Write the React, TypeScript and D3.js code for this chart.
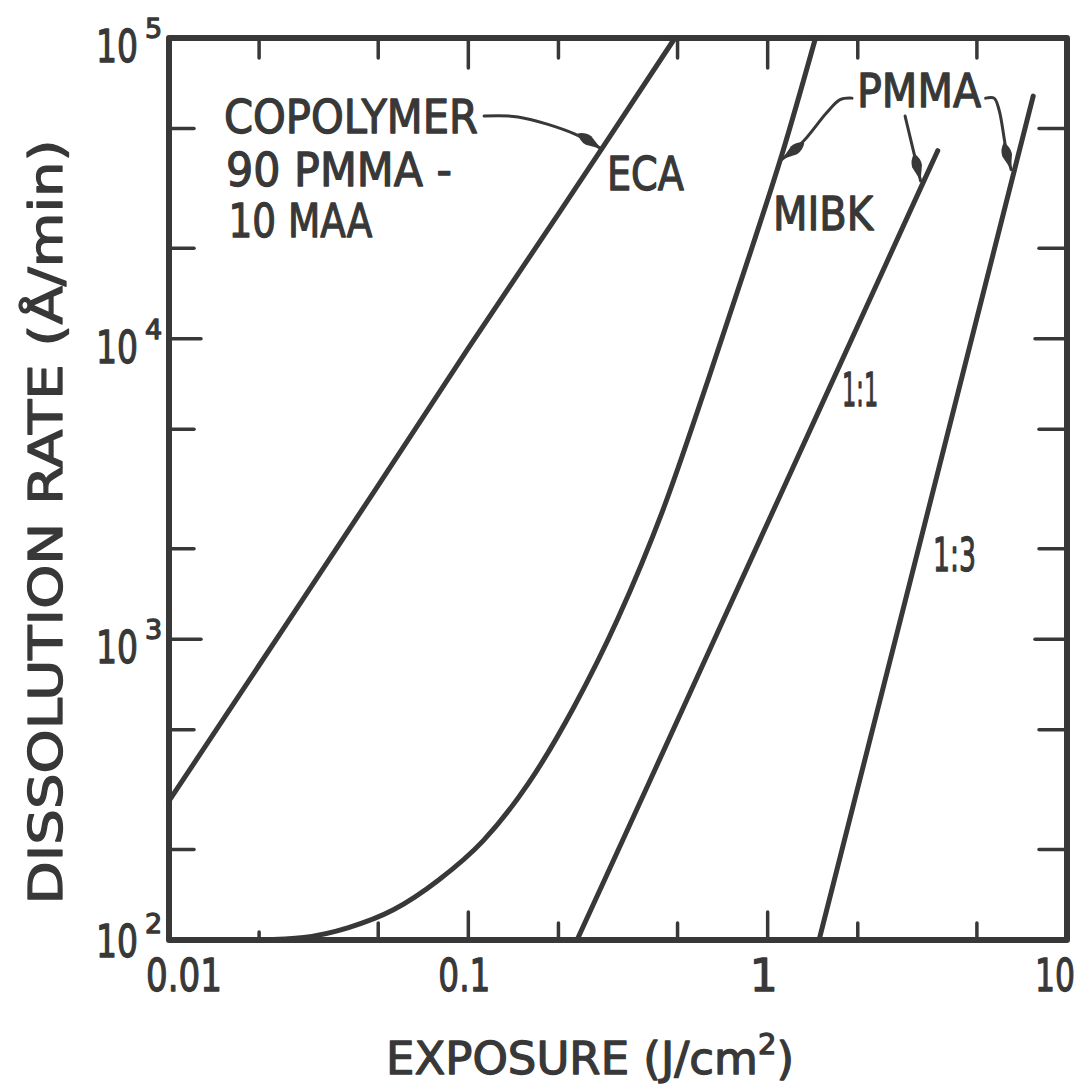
import React from "react";
import * as d3 from "d3";

// ---- data (exposure J/cm^2, dissolution rate Å/min) ----
const xMajorTicks = [0.01, 0.1, 1, 10];
const xTickLabels = ["0.01", "0.1", "1", "10"];
const xMinorTicks = [0.02, 0.05, 0.2, 0.5, 2, 5];
const yMajorTicks = [100, 1000, 10000, 100000];
const yTickExponents = ["2", "3", "4", "5"];
const yMinorTicks = [200, 500, 2000, 5000, 20000, 50000];

const copolymerECA: [number, number][] = [
  [0.01, 290], [0.02, 820], [0.05, 3250], [0.1, 9300], [0.2, 26000],
  [0.28, 43000], [0.49, 100000],
];
const pmmaMIBK: [number, number][] = [
  [0.02, 100], [0.0282, 102], [0.0398, 110], [0.0562, 126], [0.0794, 158],
  [0.1122, 214], [0.1585, 331], [0.2239, 589], [0.3162, 1175], [0.4467, 2692],
  [0.631, 7244], [0.891, 20400], [1.122, 41700], [1.445, 100000],
];
const pmma11: [number, number][] = [
  [0.2307, 100], [0.4, 331], [0.7, 1122], [1.2, 3630], [2.0, 11040],
  [3.3, 32900], [3.7, 42200],
];
const pmma13: [number, number][] = [
  [1.485, 100], [2.0, 321], [3.0, 1574], [5.0, 11700], [7.71, 64100],
];
const seriesList = [copolymerECA, pmmaMIBK, pmma11, pmma13];

const INK = "#383838";
const FONT = "'DejaVu Sans', 'Noto Sans', sans-serif";

export default function App() {
  const left = 169, right = 1067, top = 38, bottom = 940;
  const x = d3.scaleLog().domain([0.01, 10]).range([left, right]);
  const y = d3.scaleLog().domain([100, 100000]).range([bottom, top]);
  const line = d3
    .line<[number, number]>()
    .x((d) => x(d[0]))
    .y((d) => y(d[1]))
    .curve(d3.curveMonotoneX);

  // annotation placements (data coordinates)
  const texts = [
    { t: "COPOLYMER", at: [0.01527, 48300], w: 254 },
    { t: "90 PMMA -", at: [0.01551, 32200], w: 226 },
    { t: "10 MAA", at: [0.0158, 21800], w: 144 },
    { t: "ECA", at: [0.2905, 31200], w: 77 },
    { t: "MIBK", at: [1.042, 22960], w: 100 },
    { t: "PMMA", at: [1.989, 58900], w: 124 },
    { t: "1:1", at: [1.773, 5970], w: 36 },
    { t: "1:3", at: [3.569, 1688], w: 43 },
  ];
  const leaders: [number, number][][] = [
    [[0.1129, 55000], [0.1466, 54600], [0.2272, 47900], [0.2776, 42800]],
    [[1.914, 63100], [1.746, 62400], [1.574, 56400], [1.3085, 45070], [1.117, 39500]],
    [[2.878, 55000], [3.243, 33500]],
    [[5.348, 63100], [5.707, 63100], [5.931, 57600], [6.26, 42560], [6.506, 36500]],
  ];
  const leaderLine = d3
    .line<[number, number]>()
    .x((d) => x(d[0]))
    .y((d) => y(d[1]))
    .curve(d3.curveCatmullRom.alpha(0.5));

  return (
    <svg
      width={1088}
      height={1085}
      style={{ position: "absolute", left: 0, top: 0, background: "#fff" }}
      fontFamily={FONT}
    >
      <defs>
        <marker
          id="arrowhead"
          viewBox="0 0 28 12"
          refX={28}
          refY={6}
          markerWidth={28}
          markerHeight={12}
          markerUnits="userSpaceOnUse"
          orient="auto"
        >
          <path d="M0,6 Q6,0.5 13,1 L28,6 L13,11 Q6,11.5 0,6Z" fill={INK} />
        </marker>
      </defs>
      <rect width={1088} height={1085} fill="#fff" />

      {/* ticks */}
      <g stroke={INK} strokeWidth={3.5} strokeLinecap="round">
        {xMajorTicks.slice(1, -1).map((v) => (
          <g key={"xM" + v}>
            <line x1={x(v)} x2={x(v)} y1={bottom} y2={bottom - 28} />
            <line x1={x(v)} x2={x(v)} y1={top} y2={top + 30} />
          </g>
        ))}
        {xMinorTicks.map((v) => (
          <g key={"xm" + v}>
            <line x1={x(v)} x2={x(v)} y1={bottom} y2={bottom - (v === 0.02 ? 8 : 17)} />
            <line x1={x(v)} x2={x(v)} y1={top} y2={top + 20} />
          </g>
        ))}
        {yMajorTicks.slice(1, -1).map((v) => (
          <g key={"yM" + v}>
            <line x1={left} x2={left + 32} y1={y(v)} y2={y(v)} />
            <line x1={right} x2={right - 32} y1={y(v)} y2={y(v)} />
          </g>
        ))}
        {yMinorTicks.map((v) => (
          <g key={"ym" + v}>
            <line x1={left} x2={left + 25} y1={y(v)} y2={y(v)} />
            <line x1={right} x2={right - 28} y1={y(v)} y2={y(v)} />
          </g>
        ))}
      </g>

      {/* frame */}
      <rect
        x={left}
        y={top}
        width={right - left}
        height={bottom - top}
        fill="none"
        stroke={INK}
        strokeWidth={6}
        strokeLinejoin="round"
      />

      {/* curves */}
      <g fill="none" stroke={INK} strokeWidth={5} strokeLinecap="round">
        {seriesList.map((s, i) => (
          <path key={i} d={line(s) || ""} />
        ))}
      </g>

      {/* leaders */}
      <g fill="none" stroke={INK} strokeWidth={3} strokeLinecap="round">
        {leaders.map((l, i) => (
          <path key={i} d={leaderLine(l) || ""} markerEnd="url(#arrowhead)" />
        ))}
      </g>

      <g fill={INK} stroke={INK} strokeWidth={1.3} strokeLinejoin="round">
        {/* annotation text */}
        <g fontSize={46}>
          {texts.map((a) => (
            <text
              key={a.t}
              x={x(a.at[0])}
              y={y(a.at[1])}
              textLength={a.w}
              lengthAdjust="spacingAndGlyphs"
            >
              {a.t}
            </text>
          ))}
        </g>

        {/* x tick labels */}
        <g fontSize={44} textAnchor="middle">
          {xMajorTicks.map((v, i) => (
            <text
              key={v}
              x={x(v) + (i === 0 ? 15 : i === xMajorTicks.length - 1 ? -12 : -4)}
              y={991}
              textLength={i === 0 ? 76 : i === 1 ? 52 : i === 3 ? 40 : undefined}
              lengthAdjust="spacingAndGlyphs"
            >
              {xTickLabels[i]}
            </text>
          ))}
        </g>

        {/* y tick labels */}
        <g fontSize={44}>
          {yMajorTicks.map((v, i) => {
            const base = Math.min(y(v) + 24, 957);
            return (
              <g key={v}>
                <text x={138} y={base} textAnchor="end" textLength={42} lengthAdjust="spacingAndGlyphs">
                  10
                </text>
                <text x={145} y={base - 24} fontSize={27}>
                  {yTickExponents[i]}
                </text>
              </g>
            );
          })}
        </g>

        {/* axis titles */}
        <text x={590} y={1074} fontSize={45} textAnchor="middle">
          EXPOSURE (J/cm
          <tspan dy={-20} fontSize={29}>2</tspan>
          <tspan dy={20}>)</tspan>
        </text>
        <text
          transform={`translate(62, 522) rotate(-90)`}
          fontSize={46}
          textAnchor="middle"
          textLength={765}
          lengthAdjust="spacingAndGlyphs"
        >
          DISSOLUTION RATE (Å/min)
        </text>
      </g>
    </svg>
  );
}
